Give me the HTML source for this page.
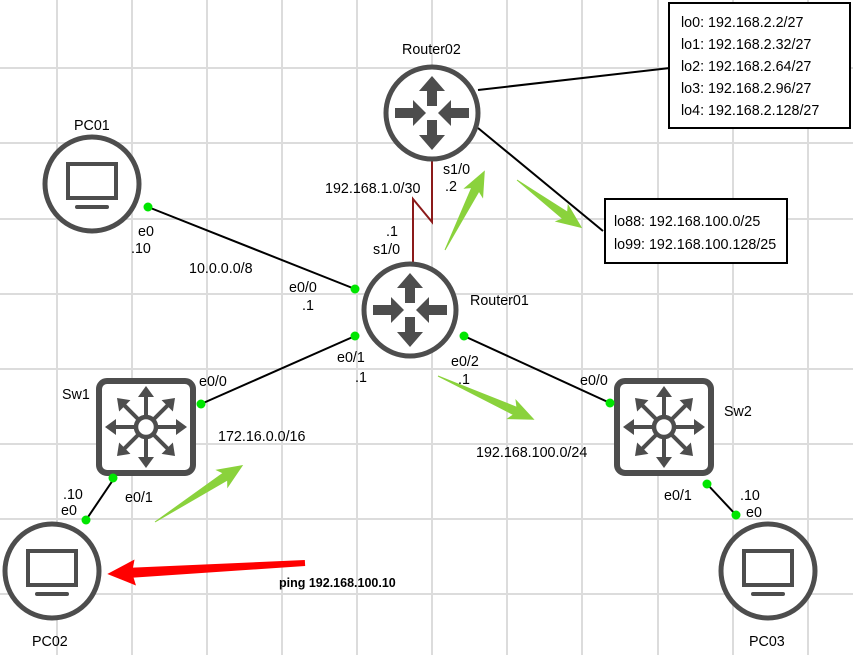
<!DOCTYPE html>
<html><head><meta charset="utf-8"><style>
html,body{margin:0;padding:0;background:#fff;}
svg{display:block;font-family:"Liberation Sans",sans-serif;font-size:14.3px;}
</style></head><body>
<svg width="853" height="655" viewBox="0 0 853 655" xmlns="http://www.w3.org/2000/svg">
<defs>
<g id="rt">
 <circle r="46" fill="#fff" stroke="#4d4d4d" stroke-width="5"/>
 <g fill="#4d4d4d">
  <polygon points="0,-37 -13,-22 -5,-22 -5,-7 5,-7 5,-22 13,-22"/>
  <polygon points="0,37 -13,22 -5,22 -5,7 5,7 5,22 13,22"/>
  <polygon points="-6,0 -19,-13 -19,-5 -37,-5 -37,5 -19,5 -19,13"/>
  <polygon points="6,0 19,-13 19,-5 37,-5 37,5 19,5 19,13"/>
 </g>
</g>
<g id="pc">
 <circle r="47" fill="#fff" stroke="#4d4d4d" stroke-width="5"/>
 <rect x="-24" y="-20" width="48" height="34" fill="none" stroke="#4d4d4d" stroke-width="4"/>
 <line x1="-15" y1="23" x2="15" y2="23" stroke="#4d4d4d" stroke-width="4" stroke-linecap="round"/>
</g>
<g id="ar">
 <line x1="9" y1="0" x2="33" y2="0" stroke="#4d4d4d" stroke-width="4"/>
 <polygon points="41,0 30,-8 30,8" fill="#4d4d4d"/>
</g>
<g id="sw">
 <rect x="-47" y="-46" width="94" height="92" rx="8" fill="#fff" stroke="#4d4d4d" stroke-width="6"/>
 <use href="#ar"/><use href="#ar" transform="rotate(45)"/><use href="#ar" transform="rotate(90)"/><use href="#ar" transform="rotate(135)"/>
 <use href="#ar" transform="rotate(180)"/><use href="#ar" transform="rotate(225)"/><use href="#ar" transform="rotate(270)"/><use href="#ar" transform="rotate(315)"/>
 <circle r="10" fill="#fff" stroke="#4d4d4d" stroke-width="4.5"/>
</g>
</defs>
<g stroke="#dcdcdc" stroke-width="2">
 <line x1="57" y1="0" x2="57" y2="655"/><line x1="132" y1="0" x2="132" y2="655"/><line x1="207" y1="0" x2="207" y2="655"/>
 <line x1="282" y1="0" x2="282" y2="655"/><line x1="357" y1="0" x2="357" y2="655"/><line x1="432" y1="0" x2="432" y2="655"/>
 <line x1="507" y1="0" x2="507" y2="655"/><line x1="582" y1="0" x2="582" y2="655"/><line x1="658" y1="0" x2="658" y2="655"/>
 <line x1="733" y1="0" x2="733" y2="655"/><line x1="808" y1="0" x2="808" y2="655"/>
 <line x1="0" y1="68" x2="853" y2="68"/><line x1="0" y1="143" x2="853" y2="143"/><line x1="0" y1="219" x2="853" y2="219"/>
 <line x1="0" y1="294" x2="853" y2="294"/><line x1="0" y1="369" x2="853" y2="369"/><line x1="0" y1="444" x2="853" y2="444"/>
 <line x1="0" y1="519" x2="853" y2="519"/><line x1="0" y1="594" x2="853" y2="594"/>
</g>
<g stroke="#000" stroke-width="2">
 <line x1="148" y1="207" x2="355" y2="289"/>
 <line x1="355" y1="336" x2="201" y2="404"/>
 <line x1="464" y1="336" x2="610" y2="403"/>
 <line x1="113" y1="480" x2="86" y2="520"/>
 <line x1="707" y1="484" x2="736" y2="515"/>
 <line x1="478" y1="90" x2="670" y2="68"/>
 <line x1="478" y1="128" x2="603" y2="231"/>
</g>
<polyline points="432,158 432,222 413,199 413,262" fill="none" stroke="#8b1a1a" stroke-width="2"/>
<use href="#rt" x="432" y="113"/>
<use href="#rt" x="410" y="310"/>
<use href="#pc" x="92" y="184"/>
<use href="#pc" x="52" y="571"/>
<use href="#pc" x="768" y="571"/>
<use href="#sw" x="146" y="427"/>
<use href="#sw" x="664" y="427"/>
<g fill="#00e600">
 <circle cx="148" cy="207" r="4.5"/><circle cx="355" cy="289" r="4.5"/><circle cx="355" cy="336" r="4.5"/>
 <circle cx="201" cy="404" r="4.5"/><circle cx="464" cy="336" r="4.5"/><circle cx="610" cy="403" r="4.5"/>
 <circle cx="113" cy="478" r="4.5"/><circle cx="86" cy="520" r="4.5"/><circle cx="707" cy="484" r="4.5"/><circle cx="736" cy="515" r="4.5"/>
</g>
<g fill="#8ad23c">
 <polygon transform="translate(445,250) rotate(-63.4)" points="0,-0.5 67,-4.5 63,-11 89,0 63,11 67,4.5 0,0.5"/>
 <polygon transform="translate(517,180) rotate(36.4)" points="0,-0.5 59,-4.5 55,-11 81,0 55,11 59,4.5 0,0.5"/>
 <polygon transform="translate(438,376) rotate(24.4)" points="0,-0.5 84,-4.5 80,-11 106,0 80,11 84,4.5 0,0.5"/>
 <polygon transform="translate(155,522) rotate(-32.9)" points="0,-0.5 83,-4.5 79,-11 105,0 79,11 83,4.5 0,0.5"/>
</g>
<polygon fill="#f00" transform="translate(305,563) rotate(176.8)" points="0,-3 172,-5 170,-13 198,0 170,13 172,5 0,3"/>
<rect x="669" y="3" width="181" height="125" fill="#fff" stroke="#000" stroke-width="2"/>
<rect x="605" y="199" width="182" height="64" fill="#fff" stroke="#000" stroke-width="2"/>
<g fill="#000">
 <text x="681" y="27">lo0: 192.168.2.2/27</text>
 <text x="681" y="49">lo1: 192.168.2.32/27</text>
 <text x="681" y="71">lo2: 192.168.2.64/27</text>
 <text x="681" y="93">lo3: 192.168.2.96/27</text>
 <text x="681" y="115">lo4: 192.168.2.128/27</text>
 <text x="614" y="226">lo88: 192.168.100.0/25</text>
 <text x="614" y="249">lo99: 192.168.100.128/25</text>
 <text x="402" y="54">Router02</text>
 <text x="74" y="130">PC01</text>
 <text x="470" y="305">Router01</text>
 <text x="62" y="399">Sw1</text>
 <text x="724" y="416">Sw2</text>
 <text x="32" y="646">PC02</text>
 <text x="749" y="646">PC03</text>
 <text x="138" y="236">e0</text>
 <text x="131" y="253">.10</text>
 <text x="189" y="273">10.0.0.0/8</text>
 <text x="289" y="292">e0/0</text>
 <text x="302" y="310">.1</text>
 <text x="325" y="193">192.168.1.0/30</text>
 <text x="443" y="174">s1/0</text>
 <text x="445" y="191">.2</text>
 <text x="386" y="236">.1</text>
 <text x="373" y="254">s1/0</text>
 <text x="337" y="362">e0/1</text>
 <text x="355" y="382">.1</text>
 <text x="451" y="366">e0/2</text>
 <text x="458" y="384">.1</text>
 <text x="199" y="386">e0/0</text>
 <text x="218" y="441">172.16.0.0/16</text>
 <text x="125" y="502">e0/1</text>
 <text x="63" y="499">.10</text>
 <text x="61" y="515">e0</text>
 <text x="580" y="385">e0/0</text>
 <text x="476" y="457">192.168.100.0/24</text>
 <text x="664" y="500">e0/1</text>
 <text x="740" y="500">.10</text>
 <text x="746" y="517">e0</text>
 <text x="279" y="587" font-weight="bold" font-size="12.5">ping 192.168.100.10</text>
</g>
</svg>
</body></html>
